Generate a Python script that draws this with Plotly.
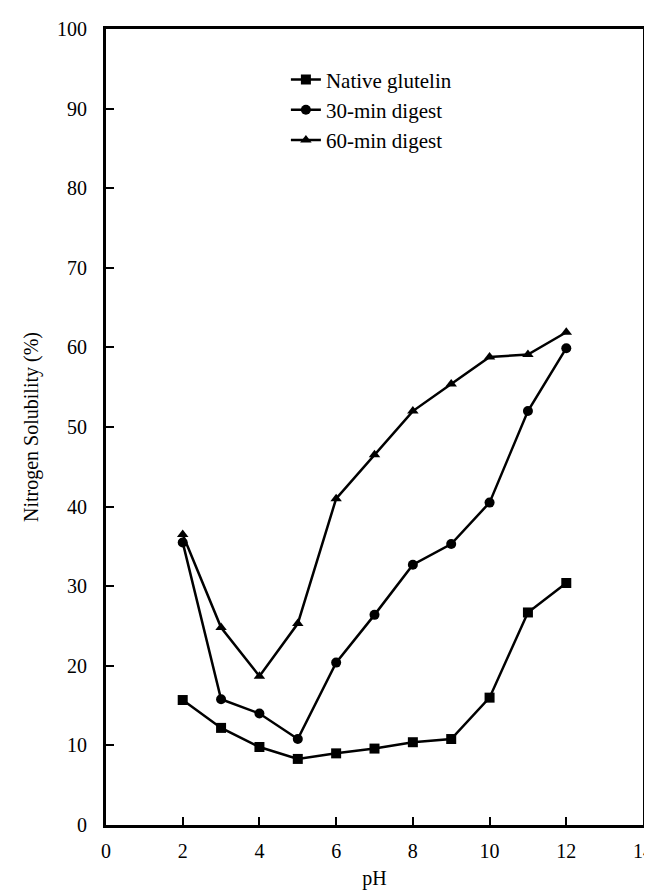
import plotly.graph_objects as go

ph = [2, 3, 4, 5, 6, 7, 8, 9, 10, 11, 12]
native = [15.7, 12.2, 9.8, 8.3, 9.0, 9.6, 10.4, 10.8, 16.0, 26.7, 30.4]
digest30 = [35.5, 15.8, 14.0, 10.8, 20.4, 26.4, 32.7, 35.3, 40.5, 52.0, 59.9]
digest60 = [36.5, 24.8, 18.7, 25.3, 41.0, 46.5, 52.0, 55.4, 58.8, 59.1, 61.9]
x_ticks = [0, 2, 4, 6, 8, 10, 12, 14]
y_ticks = [0, 10, 20, 30, 40, 50, 60, 70, 80, 90, 100]

series = [
    ("Native glutelin", native, "square"),
    ("30-min digest", digest30, "circle"),
    ("60-min digest", digest60, "triangle-up"),
]

font_family = "Liberation Serif, Times New Roman, serif"

fig = go.Figure()
for name, vals, sym in series:
    fig.add_trace(go.Scatter(
        x=ph, y=vals, name=name, mode="lines+markers",
        line=dict(color="black", width=2.5),
        marker=dict(symbol=sym, size=10, color="black"),
    ))

axis_common = dict(
    showgrid=False, zeroline=False, showline=True, linecolor="black",
    linewidth=3, mirror=True, ticks="inside", ticklen=8, tickwidth=2,
    tickcolor="black", tickfont=dict(size=20, family=font_family),
)

fig.update_layout(
    width=652, height=896,
    margin=dict(l=98, r=17, t=21, b=79),
    paper_bgcolor="white", plot_bgcolor="white",
    font=dict(family=font_family, color="black", size=20),
    showlegend=True,
    legend=dict(x=0.335, y=0.962, xanchor="left", yanchor="top",
                bgcolor="rgba(0,0,0,0)", font=dict(size=21, family=font_family),
                itemwidth=30),
    xaxis=dict(range=[0, 14], tickvals=x_ticks, ticklabelstandoff=6,
               automargin=False,
               title=dict(text="pH", font=dict(size=20), standoff=10),
               **axis_common),
    yaxis=dict(range=[0, 100], tickvals=y_ticks, ticklabelstandoff=12,
               automargin=False,
               title=dict(text="Nitrogen Solubility (%)", font=dict(size=20), standoff=14),
               **axis_common),
)

fig.write_html("out.html")
